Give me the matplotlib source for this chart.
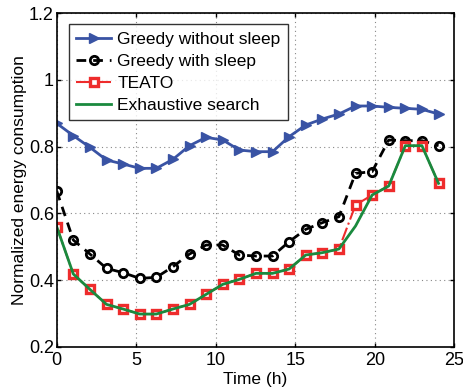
import matplotlib
matplotlib.use("Agg")
import matplotlib.pyplot as plt
import numpy as np

plt.rcParams["font.family"] = ["Liberation Sans", "DejaVu Sans"]

# hourly samples, 24 points over 0..24 h
time_h = np.linspace(0, 24, 24)

greedy_no_sleep = [0.870, 0.833, 0.798, 0.760, 0.748, 0.735, 0.735, 0.762,
                   0.803, 0.828, 0.820, 0.790, 0.785, 0.785, 0.830, 0.865,
                   0.883, 0.898, 0.922, 0.922, 0.918, 0.915, 0.912, 0.898]
greedy_sleep = [0.667, 0.520, 0.478, 0.435, 0.422, 0.405, 0.408, 0.440,
                0.478, 0.505, 0.505, 0.475, 0.472, 0.472, 0.515, 0.552,
                0.572, 0.590, 0.720, 0.725, 0.820, 0.818, 0.818, 0.803]
teato = [0.560, 0.418, 0.372, 0.327, 0.313, 0.298, 0.298, 0.313,
         0.327, 0.357, 0.387, 0.402, 0.420, 0.420, 0.433, 0.475,
         0.482, 0.493, 0.625, 0.655, 0.682, 0.803, 0.803, 0.690]
exhaustive = [0.560, 0.418, 0.372, 0.327, 0.313, 0.298, 0.298, 0.313,
              0.327, 0.357, 0.387, 0.402, 0.420, 0.420, 0.433, 0.475,
              0.482, 0.493, 0.562, 0.655, 0.682, 0.803, 0.803, 0.690]

fig = plt.figure(figsize=(4.63, 3.88), dpi=100)
ax = fig.add_axes([0.1225, 0.1064, 0.8590, 0.8593])

ax.plot(time_h, greedy_no_sleep, color="#3953a4", lw=2, marker=">", ms=7.5,
        mfc="#3953a4", mec="#3953a4", label="Greedy without sleep")
ax.plot(time_h, greedy_sleep, color="black", lw=2, ls=(0, (3.5, 2.5)),
        marker="o", ms=6, mfc="none", mec="black", mew=2,
        label="Greedy with sleep")
ax.plot(time_h, teato, color="#ee2c2c", lw=1.5, ls="-.", marker="s", ms=6,
        mfc="white", mec="#ee2c2c", mew=2.4, label="TEATO")
ax.plot(time_h, exhaustive, color="#1a8a3e", lw=2, label="Exhaustive search")

ax.set_xlim(0, 25)
ax.set_ylim(0.2, 1.2)
ax.set_xticks([0, 5, 10, 15, 20, 25])
ax.set_yticks([0.2, 0.4, 0.6, 0.8, 1.0, 1.2])
ax.set_yticklabels(["0.2", "0.4", "0.6", "0.8", "1", "1.2"])
ax.tick_params(labelsize=13, direction="in", length=3, width=1,
               top=True, right=True, pad=2)
ax.tick_params(axis="x", pad=4)
ax.grid(True, ls=(0, (1, 3)), color="#888888", lw=0.8)
for sp in ax.spines.values():
    sp.set_linewidth(1.2)

ax.set_xlabel("Time (h)", fontsize=12.5, labelpad=2)
ax.set_ylabel("Normalized energy consumption", fontsize=12.5, labelpad=1)

leg = ax.legend(loc="upper left", bbox_to_anchor=(0.031, 0.967), fontsize=12.5,
                frameon=True, fancybox=False, edgecolor="black",
                borderpad=0.42, labelspacing=0.4, handlelength=2.0,
                handletextpad=0.35, borderaxespad=0)
leg.get_frame().set_linewidth(1.0)

fig.savefig("out.png", dpi=100)
